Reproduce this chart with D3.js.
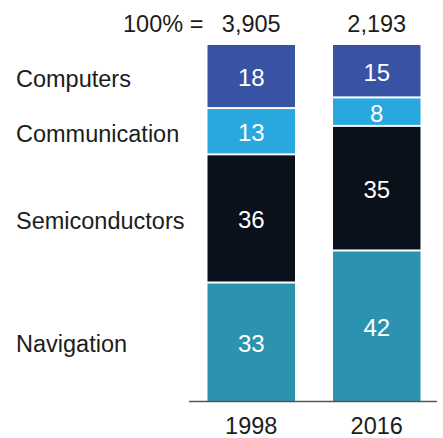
<!DOCTYPE html>
<html>
<head>
<meta charset="utf-8">
<script src="https://cdn.jsdelivr.net/npm/d3@7"></script>
<style>
  html, body { margin: 0; padding: 0; background: #fff; }
  svg { display: block; font-family: "Liberation Sans", Arial, sans-serif; }
</style>
</head>
<body>
<svg id="chart" width="443" height="438"></svg>
<script>
// Share of each segment (%), listed bottom to top of the stack
const categories = ["Navigation", "Semiconductors", "Communication", "Computers"];
const years = ["1998", "2016"];
const values1998 = [33, 36, 13, 18];
const values2016 = [42, 35, 8, 15];
const totals = ["3,905", "2,193"];
const totalPrefix = "100% =";

const colors = {
  Navigation: "#2b93b0",
  Semiconductors: "#0b111a",
  Communication: "#29a8e0",
  Computers: "#3953a4"
};

const rows = years.map((yr, i) => {
  const vals = i === 0 ? values1998 : values2016;
  const row = { year: yr };
  categories.forEach((c, j) => row[c] = vals[j]);
  return row;
});

const svg = d3.select("#chart");
const gap = 2;
const ink = "#1c1c1c";

const x = d3.scaleBand().domain(years).range([207.5, 420.5]).paddingInner(0.303).paddingOuter(0);
const y = d3.scaleLinear().domain([0, 100]).range([401, 45]);

const stack = d3.stack().keys(categories)(rows);

const layer = svg.selectAll("g.layer")
  .data(stack)
  .join("g")
  .attr("class", "layer")
  .attr("fill", d => colors[d.key]);

layer.selectAll("rect")
  .data(d => d.map(p => Object.assign(p, { key: d.key })))
  .join("rect")
  .attr("x", d => x(d.data.year))
  .attr("width", x.bandwidth())
  .attr("y", d => y(d[1]))
  .attr("height", d => y(d[0]) - y(d[1]) - (d[0] > 0 ? gap : 0));

// value labels inside segments
layer.selectAll("text")
  .data(d => d)
  .join("text")
  .attr("x", d => x(d.data.year) + x.bandwidth() / 2)
  .attr("y", d => (y(d[1]) + y(d[0]) - (d[0] > 0 ? gap : 0)) / 2 + 1.5)
  .attr("text-anchor", "middle")
  .attr("dominant-baseline", "central")
  .attr("fill", "#fff")
  .attr("font-size", 24)
  .text(d => d.data[d.key]);

// category labels beside the first bar's segments
svg.append("g").selectAll("text")
  .data(stack)
  .join("text")
  .attr("x", 16)
  .attr("y", d => (y(d[0][1]) + y(d[0][0])) / 2 + 2)
  .attr("dominant-baseline", "central")
  .attr("fill", ink)
  .attr("font-size", 23.5)
  .text(d => d.key);

// totals above bars
svg.append("g").selectAll("text")
  .data(years)
  .join("text")
  .attr("x", d => x(d) + x.bandwidth() / 2)
  .attr("y", 32)
  .attr("text-anchor", "middle")
  .attr("fill", ink)
  .attr("font-size", 23.5)
  .text((d, i) => totals[i]);

svg.append("text")
  .attr("x", 123)
  .attr("y", 32)
  .attr("fill", ink)
  .attr("font-size", 23.5)
  .text(totalPrefix);

// baseline and year axis
svg.append("line")
  .attr("x1", 189).attr("x2", 437)
  .attr("y1", 401.5).attr("y2", 401.5)
  .attr("stroke", "#555").attr("stroke-width", 1.5);

const axis = svg.append("g")
  .attr("transform", "translate(0,401)")
  .call(d3.axisBottom(x).tickSize(0).tickPadding(0));
axis.select(".domain").remove();
axis.selectAll("text")
  .attr("y", 33)
  .attr("dy", null)
  .attr("fill", ink)
  .attr("font-size", 23.5)
  .attr("font-family", "Liberation Sans, Arial, sans-serif");
</script>
</body>
</html>
